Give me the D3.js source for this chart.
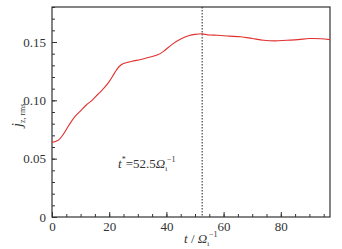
<!DOCTYPE html>
<html>
<head>
<meta charset="utf-8">
<script src="https://cdn.jsdelivr.net/npm/d3@7"></script>
<style>
  body { margin: 0; background: #fff; }
  svg text { font-family: "Liberation Serif", "Times New Roman", Times, serif; fill: #333; }
</style>
</head>
<body>
<script>
const width = 342;
const height = 249;
const margin = {top: 7, right: 12, bottom: 32, left: 52};

// data
const times = [0, 2, 4, 6, 8, 10, 12, 14, 16, 18, 20, 22, 23.5, 25, 28, 31, 34, 37, 39, 42, 45, 48, 50, 52.5,
  55, 58, 62, 66, 70, 74, 78, 82, 86, 90, 94, 97.2];
const jrms = [0.064, 0.0655, 0.071, 0.079, 0.086, 0.091, 0.096, 0.100, 0.105, 0.110, 0.116, 0.124, 0.129, 0.1315,
  0.1335, 0.135, 0.137, 0.139, 0.142, 0.148, 0.1525, 0.1555, 0.1565, 0.157,
  0.156, 0.1558, 0.155, 0.1545, 0.153, 0.1515, 0.151, 0.1515, 0.152, 0.153, 0.1528, 0.152];
const xTicks = [0, 20, 40, 60, 80];
const yTicks = [0, 0.05, 0.10, 0.15];
const tStar = 52.5;

var svg = d3.select("body").append("svg")
  .attr("width", width)
  .attr("height", height);

var x = d3.scaleLinear().domain([0, 97.2]).range([margin.left, width - margin.right]);
var y = d3.scaleLinear().domain([0, 0.18]).range([height - margin.bottom, margin.top]);

//minor ticks first
svg.append("g")
  .attr("transform", "translate(0," + (height - margin.bottom) + ")")
  .call(d3.axisBottom(x).tickValues(d3.range(0, 97, 5)).tickSize(-3).tickFormat(""));
svg.append("g")
  .attr("transform", "translate(" + margin.left + ",0)")
  .call(d3.axisLeft(y).tickValues(d3.range(0, 0.1801, 0.01)).tickSize(-3).tickFormat(""));

//major ticks
var xAxis = svg.append("g")
  .attr("transform", "translate(0," + (height - margin.bottom) + ")")
  .call(d3.axisBottom(x).tickValues(xTicks).tickSize(-5).tickPadding(5).tickFormat(d3.format("d")));
var yAxis = svg.append("g")
  .attr("transform", "translate(" + margin.left + ",0)")
  .call(d3.axisLeft(y).tickValues(yTicks).tickSize(-5).tickPadding(6)
    .tickFormat(d => d === 0 ? "0" : d3.format(".2f")(d)));

svg.selectAll("g").attr("font-family", null).attr("font-size", null);
svg.selectAll(".domain").remove();
svg.selectAll(".tick line").attr("stroke", "#333");
svg.selectAll(".tick text").attr("font-size", 13).attr("fill", "#333");

//frame
svg.append("rect")
  .attr("x", margin.left)
  .attr("y", margin.top)
  .attr("width", width - margin.left - margin.right)
  .attr("height", height - margin.top - margin.bottom)
  .attr("fill", "none")
  .attr("stroke", "#333")
  .attr("stroke-width", 1.2);

//t* marker
svg.append("line")
  .attr("x1", x(tStar)).attr("x2", x(tStar))
  .attr("y1", margin.top).attr("y2", height - margin.bottom)
  .attr("stroke", "#222")
  .attr("stroke-width", 1)
  .attr("stroke-dasharray", "1.5,1.5");

//curve
var line = d3.line()
  .x((d, i) => x(times[i]))
  .y(d => y(d))
  .curve(d3.curveCatmullRom);
svg.append("path")
  .attr("d", line(jrms))
  .attr("fill", "none")
  .attr("stroke", "#e0312f")
  .attr("stroke-width", 1.1);

//annotation
var ann = svg.append("text")
  .attr("x", 118)
  .attr("y", 168)
  .attr("font-size", 13);
ann.append("tspan").attr("font-style", "italic").text("t");
ann.append("tspan").attr("font-size", 8).attr("dy", -6).text("*");
ann.append("tspan").attr("dy", 6).text("=52.5");
ann.append("tspan").attr("font-style", "italic").text("Ω");
ann.append("tspan").attr("font-size", 7).attr("dy", 3).text("i");
ann.append("tspan").attr("font-size", 8).attr("dy", -9).text("−1");

//x label
var xl = svg.append("text")
  .attr("x", 184)
  .attr("y", 243)
  .attr("font-size", 13);
xl.append("tspan").attr("font-style", "italic").text("t");
xl.append("tspan").text(" / ");
xl.append("tspan").attr("font-style", "italic").text("Ω");
xl.append("tspan").attr("font-size", 7).attr("dy", 3).text("i");
xl.append("tspan").attr("font-size", 8).attr("dy", -9).text("−1");

//y label
var yl = svg.append("text")
  .attr("transform", "translate(22,127) rotate(-90)")
  .attr("font-size", 14);
yl.append("tspan").attr("font-style", "italic").text("j");
yl.append("tspan").attr("font-size", 8).attr("dy", 3).text("z, rms");
</script>
</body>
</html>
